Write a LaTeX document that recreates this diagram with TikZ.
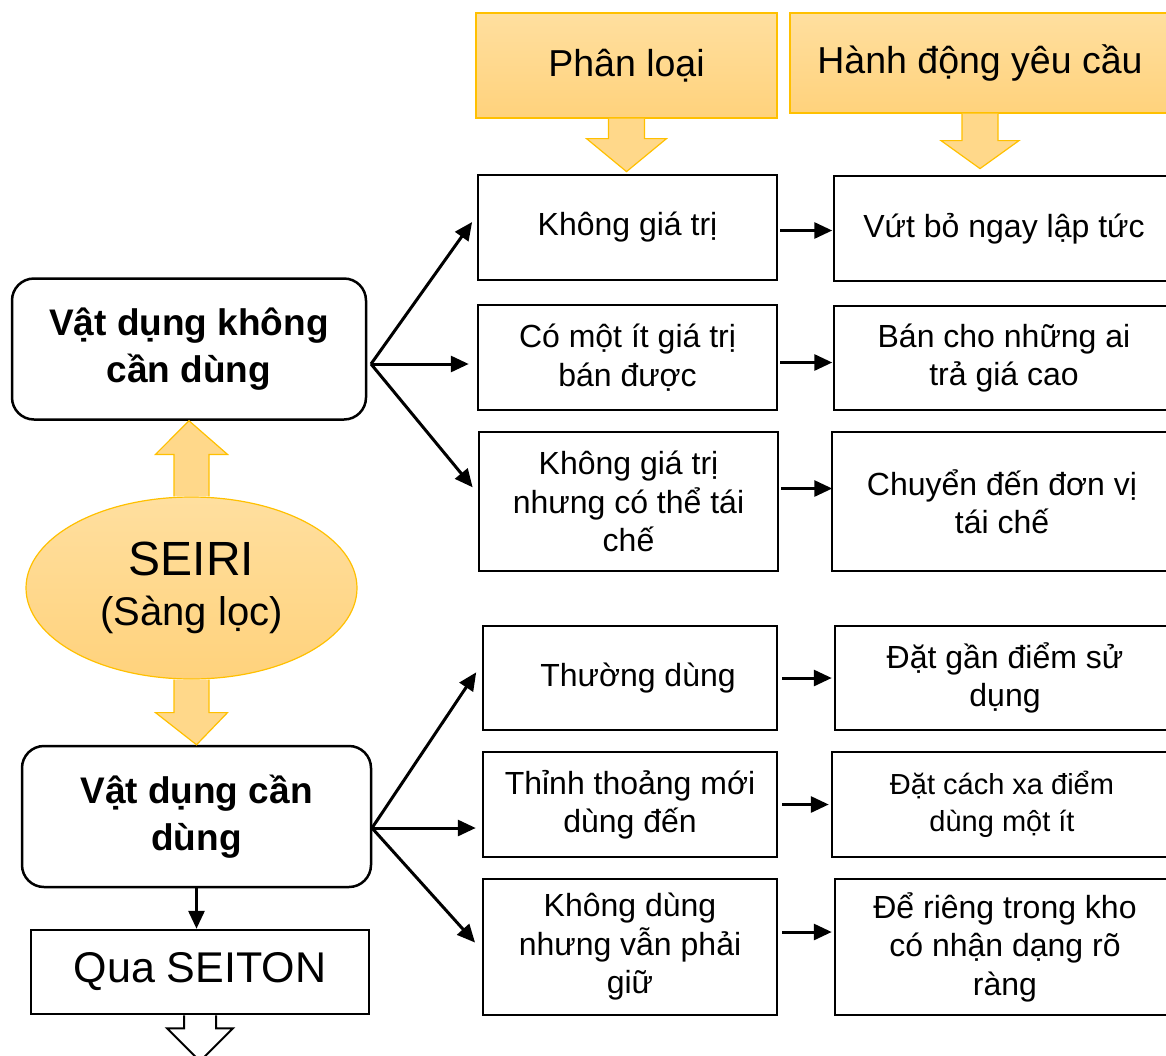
\documentclass[tikz,border=0pt]{standalone}
\usepackage{fontspec}
\setmainfont{Liberation Sans}
\usetikzlibrary{arrows.meta, calc, shapes.geometric}
\definecolor{gold}{HTML}{FFC000}
\definecolor{sandtop}{HTML}{FFDF9F}
\definecolor{sandbot}{HTML}{FFD27C}
\definecolor{sand}{HTML}{FFD88A}

\begin{document}
\begin{tikzpicture}[x=1pt, y=-1pt,
    hdr/.style={draw=gold, line width=1.2pt, top color=sandtop, bottom color=sandbot, inner sep=0pt, font=\fontsize{37.5}{42}\selectfont},
    item/.style={draw, line width=2.5pt, inner sep=0pt, align=center, font=\fontsize{32}{38.5}\selectfont},
    small/.style={item, font=\fontsize{29}{37}\selectfont},
    mainbox/.style={draw, line width=2.5pt, rounded corners=22pt, inner sep=0pt, align=center, font=\fontsize{37}{47}\selectfont\bfseries},
    link/.style={line width=3pt, -{Triangle[length=18pt, width=16pt]}},
    blk/.style={draw=gold, line width=1.2pt, fill=sand, line join=miter}]
    \useasboundingbox (0,0) rectangle (1166,1055);

    % headers
    \node[hdr, minimum width=301pt, minimum height=105pt] (h1) at (626.5,65.5) {Phân loại};
    \node[hdr, minimum width=380pt, minimum height=100pt] (h2) at (980,63) {Hành động yêu cầu};

    % left column
    \node[mainbox, minimum width=354pt, minimum height=141pt] (m1) at (189,349) {Vật dụng không\\cần dùng};
    \node[ellipse, draw=gold, line width=1.2pt, top color=sandtop, bottom color=sandbot, minimum width=331pt, minimum height=182pt, inner sep=0pt, align=center, font=\fontsize{40}{50}\selectfont] (seiri) at (191.5,588) {{\fontsize{48}{50}\selectfont SEIRI}\\(Sàng lọc)};
    \node[mainbox, minimum width=349pt, minimum height=141pt] (m2) at (196.5,816.5) {Vật dụng cần\\dùng};
    \node[draw, line width=2.5pt, inner sep=0pt, minimum width=338pt, minimum height=84pt, font=\fontsize{43}{46}\selectfont] (seiton) at (200,972) {Qua SEITON};

    % phan loai
    \node[item, minimum width=299pt, minimum height=105pt] (a1) at (627.5,227.5) {Không giá trị};
    \node[item, minimum width=299pt, minimum height=105pt] (a2) at (627.5,357.5) {Có một ít giá trị\\bán được};
    \node[item, minimum width=299pt, minimum height=139pt] (a3) at (628.5,501.5) {Không giá trị\\nhưng có thể tái\\chế};
    \node[item, minimum width=294pt, minimum height=104pt] (c1) at (630,678) {\hspace{16pt}Thường dùng};
    \node[item, minimum width=294pt, minimum height=105pt] (c2) at (630,804.5) {Thỉnh thoảng mới\\dùng đến};
    \node[item, minimum width=294pt, minimum height=136pt] (c3) at (630,947) {Không dùng\\nhưng vẫn phải\\giữ};

    % hanh dong
    \node[item, minimum width=340pt, minimum height=105pt] (b1) at (1004,228.5) {Vứt bỏ ngay lập tức};
    \node[item, minimum width=340pt, minimum height=104pt] (b2) at (1004,358) {Bán cho những ai\\trả giá cao};
    \node[item, minimum width=340pt, minimum height=139pt] (b3) at (1002,501.5) {Chuyển đến đơn vị\\tái chế};
    \node[item, minimum width=340pt, minimum height=104pt] (d1) at (1005,678) {Đặt gần điểm sử\\dụng};
    \node[small, minimum width=340pt, minimum height=105pt] (d2) at (1002,804.5) {Đặt cách xa điểm\\dùng một ít};
    \node[item, minimum width=340pt, minimum height=136pt] (d3) at (1005,947) {Để riêng trong kho\\có nhận dạng rõ\\ràng};

    % block arrows
    \draw[blk] ($(h1.south)+(-18,0)$) -- ++(0,20) -- ++(-22,0) -- ($(h1.south)+(0,53)$) -- ($(h1.south)+(40,20)$) -- ++(-22,0) -- ++(0,-20);
    \draw[blk] ($(h2.south)+(-18,0)$) -- ++(0,27) -- ++(-21,0) -- ($(h2.south)+(0,55)$) -- ($(h2.south)+(39,27)$) -- ++(-21,0) -- ++(0,-27);
    \draw[blk] ($(seiri.north)+(-17.5,0)$) -- ++(0,-42) -- ++(-18.5,0) -- (m1.south) -- ($(seiri.north)+(36,-42)$) -- ++(-18.5,0) -- ++(0,42);
    \draw[blk] ($(seiri.south)+(-17.5,0)$) -- ++(0,33) -- ++(-18.5,0) -- (m2.north) -- ($(seiri.south)+(36,33)$) -- ++(-18.5,0) -- ++(0,-33);
    \draw[line width=2pt, fill=white] ($(seiton.south)+(-16,0)$) -- ++(0,13) -- ++(-17,0) -- ($(seiton.south)+(0,46)$) -- ($(seiton.south)+(33,13)$) -- ++(-17,0) -- ++(0,-13);

    % connectors
    \coordinate (f1) at (371,364);
    \coordinate (f2) at (372,828);
    \draw[link, shorten >=8pt] (f1) -- ($(a1.west)+(0,-12)$);
    \draw[link, shorten >=8pt] (f1) -- (f1 -| a2.west);
    \draw[link, shorten >=8pt] (f1) -- ($(a3.west)+(0,-8)$);
    \draw[link, shorten >=10pt] (f2) -- ($(c1.west)+(0,-14)$);
    \draw[link, shorten >=6pt] (f2) -- (f2 -| c2.west);
    \draw[link, shorten >=10pt] (f2) -- ($(c3.west)+(0,3)$);
    \draw[link, shorten <=2pt, shorten >=2pt] ($(a1.east)+(0,3)$) -- ($(a1.east)+(56,3)$);
    \draw[link, shorten <=2pt, shorten >=2pt] ($(a2.east)+(0,5)$) -- ($(a2.east)+(56,5)$);
    \draw[link, shorten <=2pt, shorten >=2pt] ($(a3.east)+(0,-13)$) -- ($(a3.east)+(55,-13)$);
    \draw[link, shorten <=4pt, shorten >=2pt] (c1.east) -- (d1.west);
    \draw[link, shorten <=4pt, shorten >=2pt] (c2.east) -- (d2.west);
    \draw[link, shorten <=4pt, shorten >=2pt] ($(c3.east)+(0,-15)$) -- ($(d3.west)+(0,-15)$);
    \draw[link] (m2.south) -- (m2.south |- seiton.north);
\end{tikzpicture}
\end{document}
